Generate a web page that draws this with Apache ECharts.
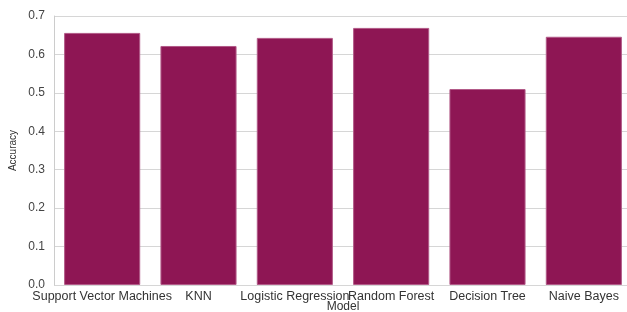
<!DOCTYPE html>
<html>
<head>
<meta charset="utf-8">
<script src="https://cdn.jsdelivr.net/npm/echarts@6/dist/echarts.min.js"></script>
<style>
html, body { margin: 0; padding: 0; background: #fff; }
#chart { width: 627px; height: 312px; }
</style>
</head>
<body>
<div id="chart"></div>
<script>
// 模型名称
var models = ['Support Vector Machines', 'KNN', 'Logistic Regression', 'Random Forest', 'Decision Tree', 'Naive Bayes'];
// 准确率
var accuracy = [0.656, 0.622, 0.643, 0.669, 0.510, 0.646];
var yTicks = [0.0, 0.1, 0.2, 0.3, 0.4, 0.5, 0.6, 0.7];

var myChart = echarts.init(document.getElementById('chart'));
var font = '"Liberation Sans", Arial, sans-serif';
var option = {
    animation: false,
    grid: { left: 54, top: 16, width: 578, height: 269, outerBoundsMode: 'none', containLabel: false },
    xAxis: {
        type: 'category',
        data: models,
        name: 'Model',
        nameLocation: 'middle',
        nameGap: 16,
        nameMoveOverlap: false,
        nameTextStyle: { fontFamily: font, fontSize: 12, color: '#333' },
        axisLine: { show: false },
        axisTick: { show: false },
        axisLabel: { interval: 0, margin: 5, fontFamily: font, fontSize: 12.5, color: '#333' }
    },
    yAxis: {
        type: 'value',
        min: 0,
        max: 0.7,
        interval: 0.1,
        name: 'Accuracy',
        nameLocation: 'middle',
        nameGap: 36,
        nameMoveOverlap: false,
        nameTextStyle: { fontFamily: font, fontSize: 10, color: '#333' },
        axisLine: { show: true, lineStyle: { color: '#cccccc', width: 1 } },
        axisTick: { show: false },
        splitLine: { lineStyle: { color: '#d6d6d6', width: 1 } },
        axisLabel: {
            margin: 9, fontFamily: font, fontSize: 12, color: '#444',
            formatter: function (v) { return v.toFixed(1); }
        }
    },
    series: [{
        type: 'bar',
        data: accuracy,
        barCategoryGap: '21%',
        itemStyle: { color: '#8e1654', borderColor: '#b25a88', borderWidth: 1 }
    }]
};
myChart.setOption(option);
</script>
</body>
</html>
